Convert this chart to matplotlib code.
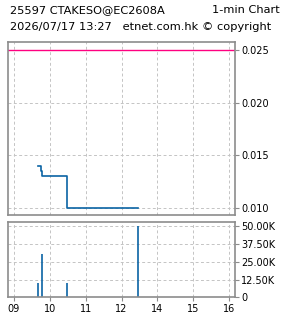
import matplotlib.pyplot as plt

# 1-min data (HH:MM)
price_times = ["09:41", "09:46", "09:47", "10:29", "13:27"]
prices = [0.014, 0.0135, 0.013, 0.010, 0.010]
ref_price = 0.025

vol_times = ["09:41", "09:47", "10:29", "13:27"]
volumes = [10000, 30000, 10000, 50000]

hour_labels = ["09", "10", "11", "12", "14", "15", "16"]
price_ticks = [0.010, 0.015, 0.020, 0.025]
vol_ticks = [0, 12500, 25000, 37500, 50000]

blue = "#0a64a4"
grey = "#8c8c8c"
gridc = "#c4c4c4"


def to_x(t):
    # trading-time axis, lunch break 12:00-13:00 removed
    h, m = map(int, t.split(":"))
    v = h + m / 60.0
    if v >= 13:
        v -= 1
    return v - 9


plt.rcParams["font.family"] = "DejaVu Sans"
fig = plt.figure(figsize=(2.85, 3.18), dpi=100)
ax1 = fig.add_axes([0.0281, 0.3239, 0.7965, 0.544])
ax2 = fig.add_axes([0.0281, 0.0645, 0.7965, 0.2374])

xs = list(range(len(hour_labels)))
for ax in (ax1, ax2):
    ax.set_xlim(-0.167, 6.167)
    ax.set_xticks(xs)
    for s in ax.spines.values():
        s.set_color(grey)
        s.set_linewidth(1.2)
    ax.yaxis.tick_right()
    ax.tick_params(axis="y", colors=grey, labelcolor="black", length=3,
                   width=0.8, pad=1.5, labelsize=7)
    ax.grid(True, color=gridc, linestyle=(0, (3, 2.5)), linewidth=0.7)
    ax.set_axisbelow(True)

ax1.axhline(ref_price, color="#ff0080", linewidth=1.0)
ax1.plot([to_x(t) for t in price_times], prices, drawstyle="steps-post",
         color=blue, linewidth=1.2)
ax1.set_ylim(0.00934, 0.02576)
ax1.set_yticks(price_ticks)
ax1.set_yticklabels([f"{v:.3f}" for v in price_ticks])
ax1.tick_params(axis="x", length=0, labelbottom=False)

ax2.vlines([to_x(t) for t in vol_times], 0, volumes, color=blue, linewidth=1.2)
ax2.set_ylim(0, 52600)
ax2.set_yticks(vol_ticks)
ax2.set_yticklabels(["0" if v == 0 else f"{v / 1000:.2f}K" for v in vol_ticks])
ax2.set_xticklabels(hour_labels)
ax2.tick_params(axis="x", colors=grey, labelcolor="black", length=3,
                width=0.8, pad=1.5, labelsize=7)

fig.text(0.035, 0.968, "25597 CTAKESO@EC2608A", fontsize=8.2, va="center")
fig.text(0.98, 0.968, "1-min Chart", fontsize=8.2, va="center", ha="right")
fig.text(0.035, 0.915, "2026/07/17 13:27   etnet.com.hk \u00a9 copyright",
         fontsize=8.2, va="center")

fig.savefig("out.png", dpi=100)
